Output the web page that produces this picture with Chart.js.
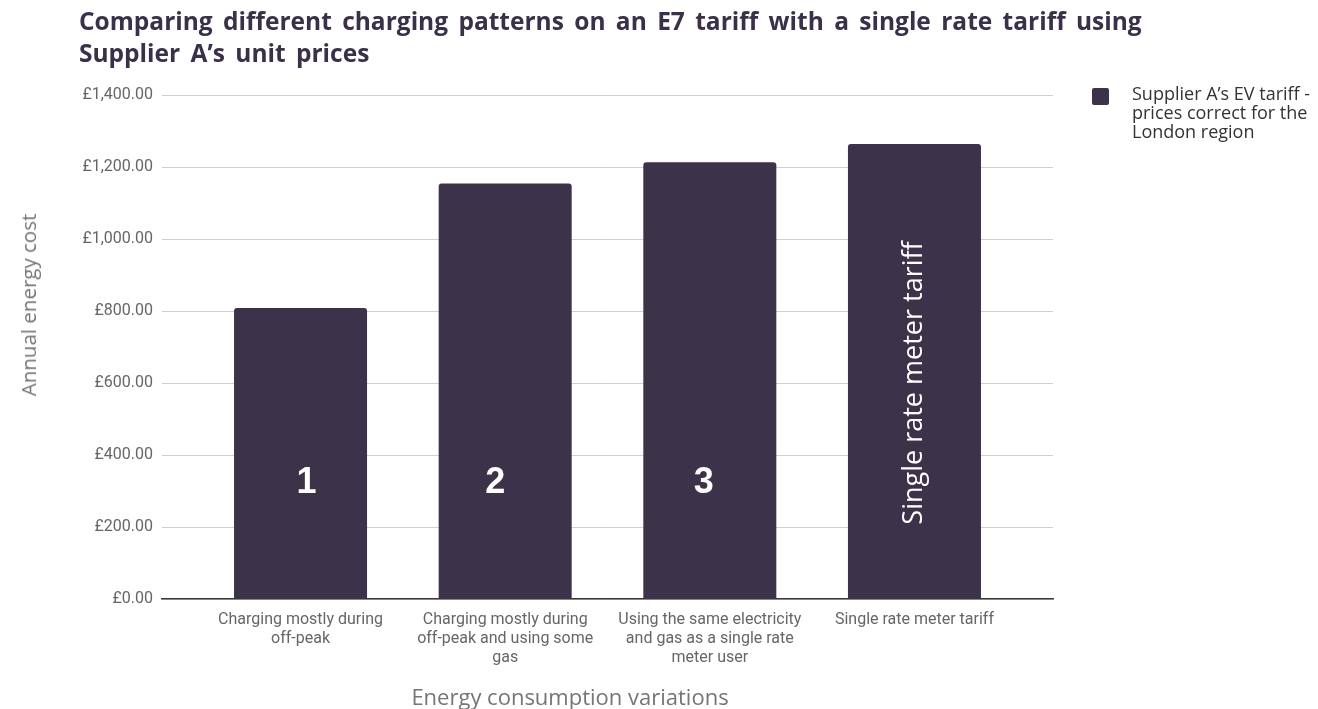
<!DOCTYPE html>
<html>
<head>
<meta charset="utf-8">
<script src="https://cdn.jsdelivr.net/npm/chart.js@4.4.1/dist/chart.umd.min.js"></script>
<style>
  html, body { margin: 0; padding: 0; background: #fff; }
  #wrap { position: relative; width: 1318px; height: 709px; overflow: hidden; }
  #chart { position: absolute; left: 0; top: 0; }
  #title {
    position: absolute; left: 79px; top: 5px;
    font-family: "Open Sans", sans-serif; font-weight: 700; font-size: 24.5px;
    line-height: 32px; word-spacing: 4px; color: #3b3049; white-space: nowrap;
  }
  .axis-title {
    position: absolute; font-family: "Open Sans", sans-serif;
    color: #757575; white-space: nowrap;
  }
  #x-title { left: 570px; top: 696px; font-size: 22px; transform: translate(-50%, -50%); }
  #y-title { left: 28px; top: 305px; font-size: 20.5px; transform: translate(-50%, -50%) rotate(-90deg); }
  #legend { position: absolute; left: 1092px; top: 84px; }
  #legend .box { position: absolute; left: 0; top: 4px; width: 17px; height: 17px; border-radius: 2px; }
  #legend .txt {
    position: absolute; left: 40px; top: 0; width: 200px;
    font-family: "Open Sans", sans-serif; font-size: 18px; line-height: 19px; color: #333;
  }
</style>
</head>
<body>
<div id="wrap">
  <canvas id="chart" width="1318" height="709"></canvas>
  <div id="title"></div>
  <div id="y-title" class="axis-title"></div>
  <div id="x-title" class="axis-title"></div>
  <div id="legend"><div class="box"></div><div class="txt"></div></div>
</div>
<script>
// --- Chart data ---
const chartTitle = ["Comparing different charging patterns on an E7 tariff with a single rate tariff using",
                    "Supplier A\u2019s unit prices"];
const categories = [
  ["Charging mostly during", "off-peak"],
  ["Charging mostly during", "off-peak and using some", "gas"],
  ["Using the same electricity", "and gas as a single rate", "meter user"],
  ["Single rate meter tariff"]
];
const seriesName = "Supplier A\u2019s EV tariff - prices correct for the London region";
const costs = [808, 1154, 1213, 1264];
const barLabels = ["1", "2", "3", "Single rate meter tariff"];
const yTicks = [0, 200, 400, 600, 800, 1000, 1200, 1400];
const xAxisTitle = "Energy consumption variations";
const yAxisTitle = "Annual energy cost";

const barColor = "#3c3249";

// --- HTML text parts ---
document.getElementById('title').innerHTML = chartTitle.join('<br>');
document.getElementById('x-title').textContent = xAxisTitle;
document.getElementById('y-title').textContent = yAxisTitle;
document.querySelector('#legend .box').style.background = barColor;
document.querySelector('#legend .txt').textContent = seriesName;

const fmtPound = v => '\u00a3' + v.toLocaleString('en-GB', {minimumFractionDigits: 2, maximumFractionDigits: 2});

// --- Labels drawn inside bars (hand placed in the original, so small nudges) ---
const labelNudge = [6, -10, -6, 0];
const barLabelPlugin = {
  id: 'barLabels',
  afterDatasetsDraw(chart) {
    const ctx = chart.ctx;
    const yScale = chart.scales.y;
    chart.getDatasetMeta(0).data.forEach((bar, i) => {
      const txt = barLabels[i];
      ctx.save();
      ctx.fillStyle = '#ffffff';
      ctx.textAlign = 'center';
      ctx.textBaseline = 'middle';
      if (txt.length > 2) {
        ctx.font = '27px "Open Sans", sans-serif';
        ctx.translate(bar.x + labelNudge[i], yScale.getPixelForValue(600));
        ctx.rotate(-Math.PI / 2);
        ctx.fillText(txt, 0, 0);
      } else {
        ctx.font = 'bold 36px "Liberation Sans", Arial, sans-serif';
        ctx.fillText(txt, bar.x + labelNudge[i], yScale.getPixelForValue(322));
      }
      ctx.restore();
    });
  }
};

const ctx = document.getElementById('chart').getContext('2d');
new Chart(ctx, {
  type: 'bar',
  data: {
    datasets: [{
      label: seriesName,
      data: costs.map((v, i) => ({x: i, y: v})),
      backgroundColor: barColor,
      borderRadius: 3,
      borderSkipped: 'start',
      barPercentage: 0.65,
      categoryPercentage: 1.0
    }]
  },
  options: {
    responsive: false,
    animation: false,
    layout: {padding: {left: 0, top: 95, right: 265, bottom: 0}},
    plugins: {legend: {display: false}, title: {display: false}, tooltip: {enabled: false}},
    scales: {
      x: {
        type: 'linear',
        offset: false,
        min: -0.677,
        max: 3.677,
        grid: {display: false},
        border: {display: true, color: '#3a3a3a', width: 1.5},
        afterBuildTicks: scale => { scale.ticks = categories.map((c, i) => ({value: i})); },
        afterFit: scale => { scale.height = 110; },
        ticks: {
          autoSkip: false,
          maxRotation: 0,
          padding: 3,
          color: '#666',
          font: {family: 'Roboto', size: 16, lineHeight: 1.2},
          callback: v => categories[v]
        }
      },
      y: {
        min: 0,
        max: 1400,
        grid: {color: '#d0d0d0', drawTicks: false},
        border: {display: false},
        afterBuildTicks: scale => { scale.ticks = yTicks.map(v => ({value: v})); },
        afterFit: scale => { scale.width = 162; },
        ticks: {
          padding: 9,
          color: '#666',
          font: {family: 'Roboto', size: 16},
          callback: v => fmtPound(v)
        }
      }
    }
  },
  plugins: [barLabelPlugin]
});
</script>
</body>
</html>
